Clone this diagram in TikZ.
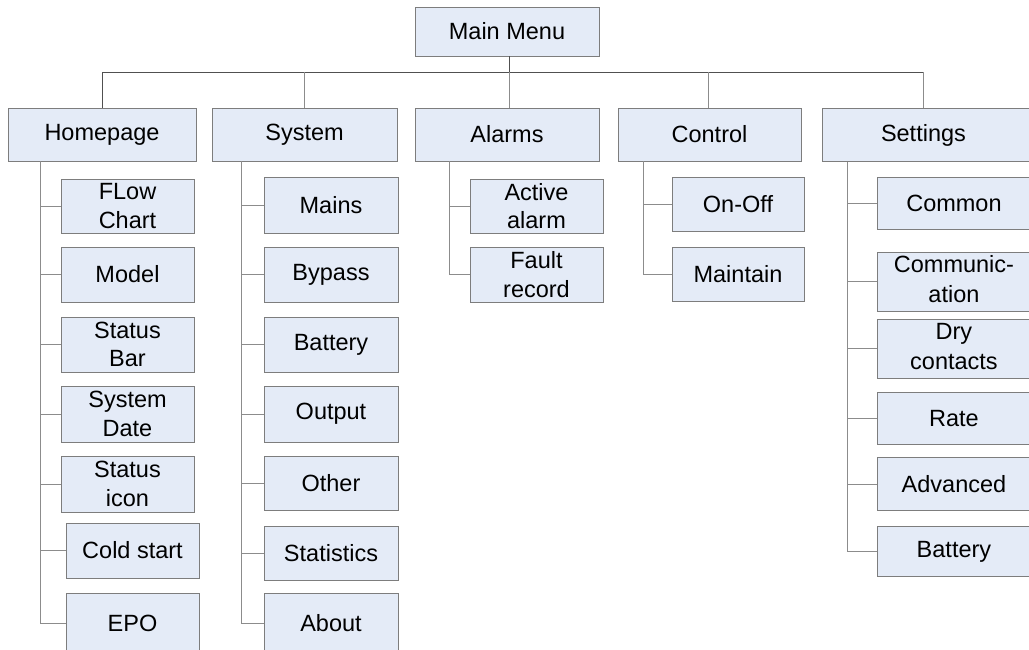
\documentclass[tikz,border=0pt]{standalone}
\usepackage{fontspec}
\setmainfont{Liberation Sans}
\definecolor{boxfill}{RGB}{228,235,247}
\definecolor{boxline}{RGB}{125,125,125}
\definecolor{conline}{RGB}{140,140,140}
\definecolor{barline}{RGB}{80,80,80}
\tikzset{
  box/.style={draw=boxline, fill=boxfill, line width=0.9pt, inner sep=0pt, align=center,
    font=\fontsize{23.5}{28.5}\selectfont, text=black},
  con/.style={draw=conline, line width=0.9pt},
  barcon/.style={draw=barline, line width=0.9pt}
}
\newcommand\mybox[6]{\node[box, minimum width={#4-#2}, minimum height={#5-#3}] (#1) at ({(#2+#4)/2},{(#3+#5)/2}) {#6};}
\begin{document}
\begin{tikzpicture}[x=1pt,y=-1pt]
\useasboundingbox (0,0) rectangle (1029,650);
\clip (0,0) rectangle (1029,650);
% level 0 and 1
\mybox{main}{415}{7}{599}{56}{Main Menu}
\mybox{home}{8}{108}{196}{161}{Homepage}
\mybox{sys}{212}{108}{397}{161}{System}
\mybox{alm}{415}{108}{599}{161}{Alarms}
\mybox{ctl}{618}{108}{801}{161}{Control}
\node[box, minimum width=220, minimum height=53, anchor=north west] (set) at (822,108) {\hspace*{-18pt}Settings};
% top tree
\coordinate (bar) at (0,72);
\coordinate (setc) at (923,108);
\draw[barcon] (main.south -| 509,0) -- (509,72);
\draw[barcon] (home.north) |- (setc |- bar);
\draw[con] (sys.north) -- (sys.north |- bar);
\draw[con] (alm.north -| 509,0) -- (509,72);
\draw[con] (ctl.north -| 708,0) -- (708,72);
\draw[con] (setc) -- (setc |- bar);
% Homepage children
\mybox{fc}{61}{179}{194}{233}{FLow\\Chart}
\mybox{model}{61}{247}{194}{302}{Model}
\mybox{sbar}{61}{317}{194}{372}{Status\\Bar}
\mybox{sdate}{61}{386}{194}{442}{System\\Date}
\mybox{sicon}{61}{456}{194}{512}{Status\\icon}
\mybox{cold}{66}{523}{199}{578}{Cold start}
\mybox{epo}{66}{593}{199}{653}{EPO}
\foreach \c in {fc,model,sbar,sdate,sicon,cold,epo}
  \draw[con] (home.south west) ++(33,0) |- (\c.west);
% System children
\mybox{mains}{264}{177}{398}{233}{Mains}
\mybox{bypass}{264}{247}{398}{302}{Bypass}
\mybox{batt}{264}{317}{398}{372}{Battery}
\mybox{output}{264}{386}{398}{442}{Output}
\mybox{other}{264}{456}{398}{510}{Other}
\mybox{stats}{264}{526}{398}{580}{Statistics}
\mybox{about}{264}{593}{398}{653}{About}
\foreach \c in {mains,bypass,batt,output,other,stats,about}
  \draw[con] (sys.south west) ++(30,0) |- (\c.west);
% Alarms children
\mybox{active}{470}{179}{603}{233}{Active\\alarm}
\mybox{fault}{470}{247}{603}{302}{Fault\\record}
\foreach \c in {active,fault}
  \draw[con] (alm.south west) ++(35,0) |- (\c.west);
% Control children
\mybox{onoff}{672}{177}{804}{231}{On-Off}
\mybox{maint}{672}{247}{804}{301}{Maintain}
\foreach \c in {onoff,maint}
  \draw[con] (ctl.south west) ++(26,0) |- (\c.west);
% Settings children
\node[box, minimum width=170, minimum height=52, anchor=north west] (common) at (877,177) {\hspace*{-17pt}Common};
\node[box, minimum width=170, minimum height=49, anchor=north west] (comm) at (877,252) {\hspace*{-17pt}\begin{tabular}{@{}c@{}}Communic-\\[1.5pt]ation\end{tabular}};
\node[box, minimum width=170, minimum height=52, anchor=north west] (dry) at (877,319) {\hspace*{-17pt}\begin{tabular}{@{}c@{}}Dry\\[1.5pt]contacts\end{tabular}};
\node[box, minimum width=170, minimum height=52, anchor=north west] (rate) at (877,392) {\hspace*{-17pt}Rate};
\node[box, minimum width=170, minimum height=53, anchor=north west] (adv) at (877,457) {\hspace*{-17pt}Advanced};
\node[box, minimum width=170, minimum height=50, anchor=north west] (sbatt) at (877,526) {\hspace*{-17pt}Battery};
\foreach \c in {common,comm,dry,rate,adv,sbatt}
  \draw[con] (set.south west) ++(25,0) |- (\c.west);
\end{tikzpicture}
\end{document}
